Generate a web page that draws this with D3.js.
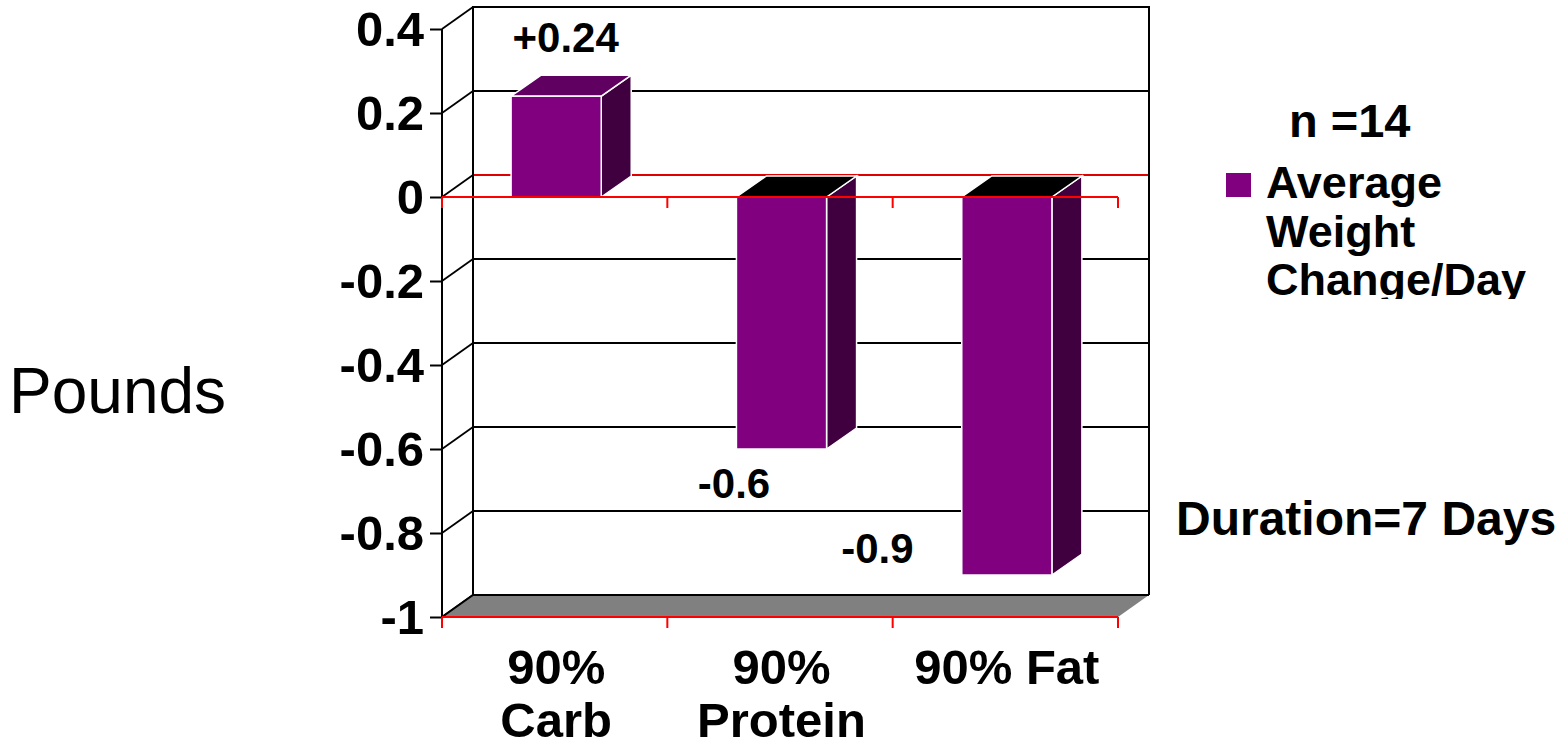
<!DOCTYPE html>
<html><head><meta charset="utf-8">
<script src="https://cdn.jsdelivr.net/npm/d3@7"></script>
<style>
body{margin:0;background:#fff}
svg{display:block}
text{font-family:Arial,"Liberation Sans",sans-serif}
</style>
</head><body>
<svg id="c" width="1562" height="748"></svg>
<script>
// ---- data ----
const categories = ["90% Carb", "90% Protein", "90% Fat"];
const categoryLines = [["90%", "Carb"], ["90%", "Protein"], ["90% Fat"]];
const values = [0.24, -0.6, -0.9];
const valueLabels = ["+0.24", "-0.6", "-0.9"];
const yTicks = [0.4, 0.2, 0, -0.2, -0.4, -0.6, -0.8, -1];
const yTickLabels = ["0.4", "0.2", "0", "-0.2", "-0.4", "-0.6", "-0.8", "-1"];
const legendTitle = "n =14";
const seriesNameLines = ["Average", "Weight", "Change/Day"];
const noteText = "Duration=7 Days";
const axisTitle = "Pounds";

// ---- layout ----
const labelOffsets = [[11, -44], [-46, 49], [-128, -12]];
const DX = 31, DY = -22;     // wall depth
const BDX = 30, BDY = -21;   // bar depth
const svg = d3.select("#c");
const y = d3.scaleLinear().domain([-1, 0.4]).range([617, 29]);
const x = d3.scaleBand().domain(categories).range([442, 1118]);
const xL = x.range()[0], xR = x.range()[1];
const bw = x.bandwidth(), barW = bw * 0.4;
const yTop = y(0.4), yBot = y(-1);

const g = svg.append("g");

// back wall gridlines
g.selectAll("line.grid").data(yTicks).join("line")
  .attr("x1", xL + DX).attr("x2", xR + DX)
  .attr("y1", d => y(d) + DY).attr("y2", d => y(d) + DY)
  .attr("stroke", d => d === 0 ? "#e00000" : "#000").attr("stroke-width", 1.8);

// side wall diagonals
g.selectAll("line.diag").data(yTicks).join("line")
  .attr("x1", xL).attr("x2", xL + DX)
  .attr("y1", d => y(d)).attr("y2", d => y(d) + DY)
  .attr("stroke", "#000").attr("stroke-width", 1.8);

// back wall frame
g.append("path")
  .attr("d", `M${xL + DX},${yBot + DY}V${yTop + DY}H${xR + DX}V${yBot + DY}`)
  .attr("fill", "none").attr("stroke", "#000").attr("stroke-width", 2);

// floor
g.append("path")
  .attr("d", `M${xL},${yBot}L${xL + DX},${yBot + DY}H${xR + DX}L${xR},${yBot}Z`)
  .attr("fill", "#808080").attr("stroke", "none");
g.append("path")
  .attr("d", `M${xL},${yBot}L${xL + DX},${yBot + DY}H${xR + DX}`)
  .attr("fill", "none").attr("stroke", "#000").attr("stroke-width", 2);

// front axis line
g.append("line").attr("x1", xL).attr("x2", xL).attr("y1", yTop).attr("y2", yBot)
  .attr("stroke", "#000").attr("stroke-width", 2);

// y axis ticks + labels
const yAxis = d3.axisLeft(y).tickValues(yTicks)
  .tickFormat((d, i) => yTickLabels[i]).tickSize(12).tickPadding(6);
const ya = svg.append("g").attr("transform", `translate(${xL},0)`).call(yAxis);
ya.select(".domain").remove();
ya.selectAll(".tick line").attr("stroke", "#000").attr("stroke-width", 2);
ya.selectAll(".tick text")
  .attr("font-family", "Arial, 'Liberation Sans', sans-serif")
  .attr("font-size", 49).attr("font-weight", "bold").attr("fill", "#000")
  .attr("dy", "0.34em");

// bars
const bars = svg.append("g").selectAll("g.bar").data(values).join("g");
bars.each(function (v, i) {
  const b = d3.select(this);
  const x0 = x(categories[i]) + (bw - barW) / 2 + 1.5, x1 = x0 + barW;
  const t = y(Math.max(v, 0)), bt = y(Math.min(v, 0));
  b.append("path")
    .attr("d", `M${x1},${t}L${x1 + BDX},${t + BDY}V${bt + BDY}L${x1},${bt}Z`)
    .attr("fill", "#400040").attr("stroke", "#fff").attr("stroke-width", 1.5);
  b.append("path")
    .attr("d", `M${x0},${t}L${x0 + BDX},${t + BDY}H${x1 + BDX}L${x1},${t}Z`)
    .attr("fill", v >= 0 ? "#600060" : "#000").attr("stroke", "#fff").attr("stroke-width", 1.5);
  b.append("rect").attr("x", x0).attr("y", t).attr("width", barW).attr("height", bt - t)
    .attr("fill", "#800080").attr("stroke", "#fff").attr("stroke-width", 1.5);
});

// front red lines (zero and floor) with category ticks
const edges = categories.map(c => x(c)).concat([xR]);
[0, -1].forEach(v => {
  svg.append("line").attr("x1", xL).attr("x2", xR).attr("y1", y(v)).attr("y2", y(v))
    .attr("stroke", "#ff0000").attr("stroke-width", 2);
  svg.append("g").selectAll("line").data(edges).join("line")
    .attr("x1", d => d).attr("x2", d => d).attr("y1", y(v)).attr("y2", y(v) + 11)
    .attr("stroke", "#ff0000").attr("stroke-width", 2);
});

// value labels
svg.append("g").selectAll("text").data(values).join("text")
  .attr("x", (v, i) => x(categories[i]) + bw / 2 + labelOffsets[i][0])
  .attr("y", (v, i) => y(v) + labelOffsets[i][1])
  .attr("text-anchor", "middle").attr("font-size", 42).attr("font-weight", "bold")
  .text((v, i) => valueLabels[i]);

// category labels
const cl = svg.append("g").selectAll("text").data(categories).join("text")
  .attr("text-anchor", "middle").attr("font-size", 49).attr("font-weight", "bold");
cl.each(function (c, i) {
  d3.select(this).selectAll("tspan").data(categoryLines[i]).join("tspan")
    .attr("x", x(c) + bw / 2 + 1.5).attr("y", (d, j) => 684 + j * 53).text(d => d);
});

// axis title
svg.append("text").attr("x", 9).attr("y", 413).attr("font-size", 64).text(axisTitle);

// legend
const defs = svg.append("defs");
defs.append("clipPath").attr("id", "legclip").append("rect")
  .attr("x", 1200).attr("y", 80).attr("width", 362).attr("height", 219);
const leg = svg.append("g").attr("clip-path", "url(#legclip)");
leg.append("text").attr("x", 1289).attr("y", 137).attr("font-size", 47)
  .attr("font-weight", "bold").text(legendTitle);
leg.append("rect").attr("x", 1226).attr("y", 173).attr("width", 25).attr("height", 24)
  .attr("fill", "#800080");
leg.append("g").selectAll("text").data(seriesNameLines).join("text")
  .attr("x", 1266).attr("y", (d, i) => 198 + i * 48.5)
  .attr("font-size", 45).attr("font-weight", "bold").text(d => d);

// note
svg.append("text").attr("x", 1176).attr("y", 535).attr("font-size", 48)
  .attr("font-weight", "bold").text(noteText);
</script>
</body></html>
